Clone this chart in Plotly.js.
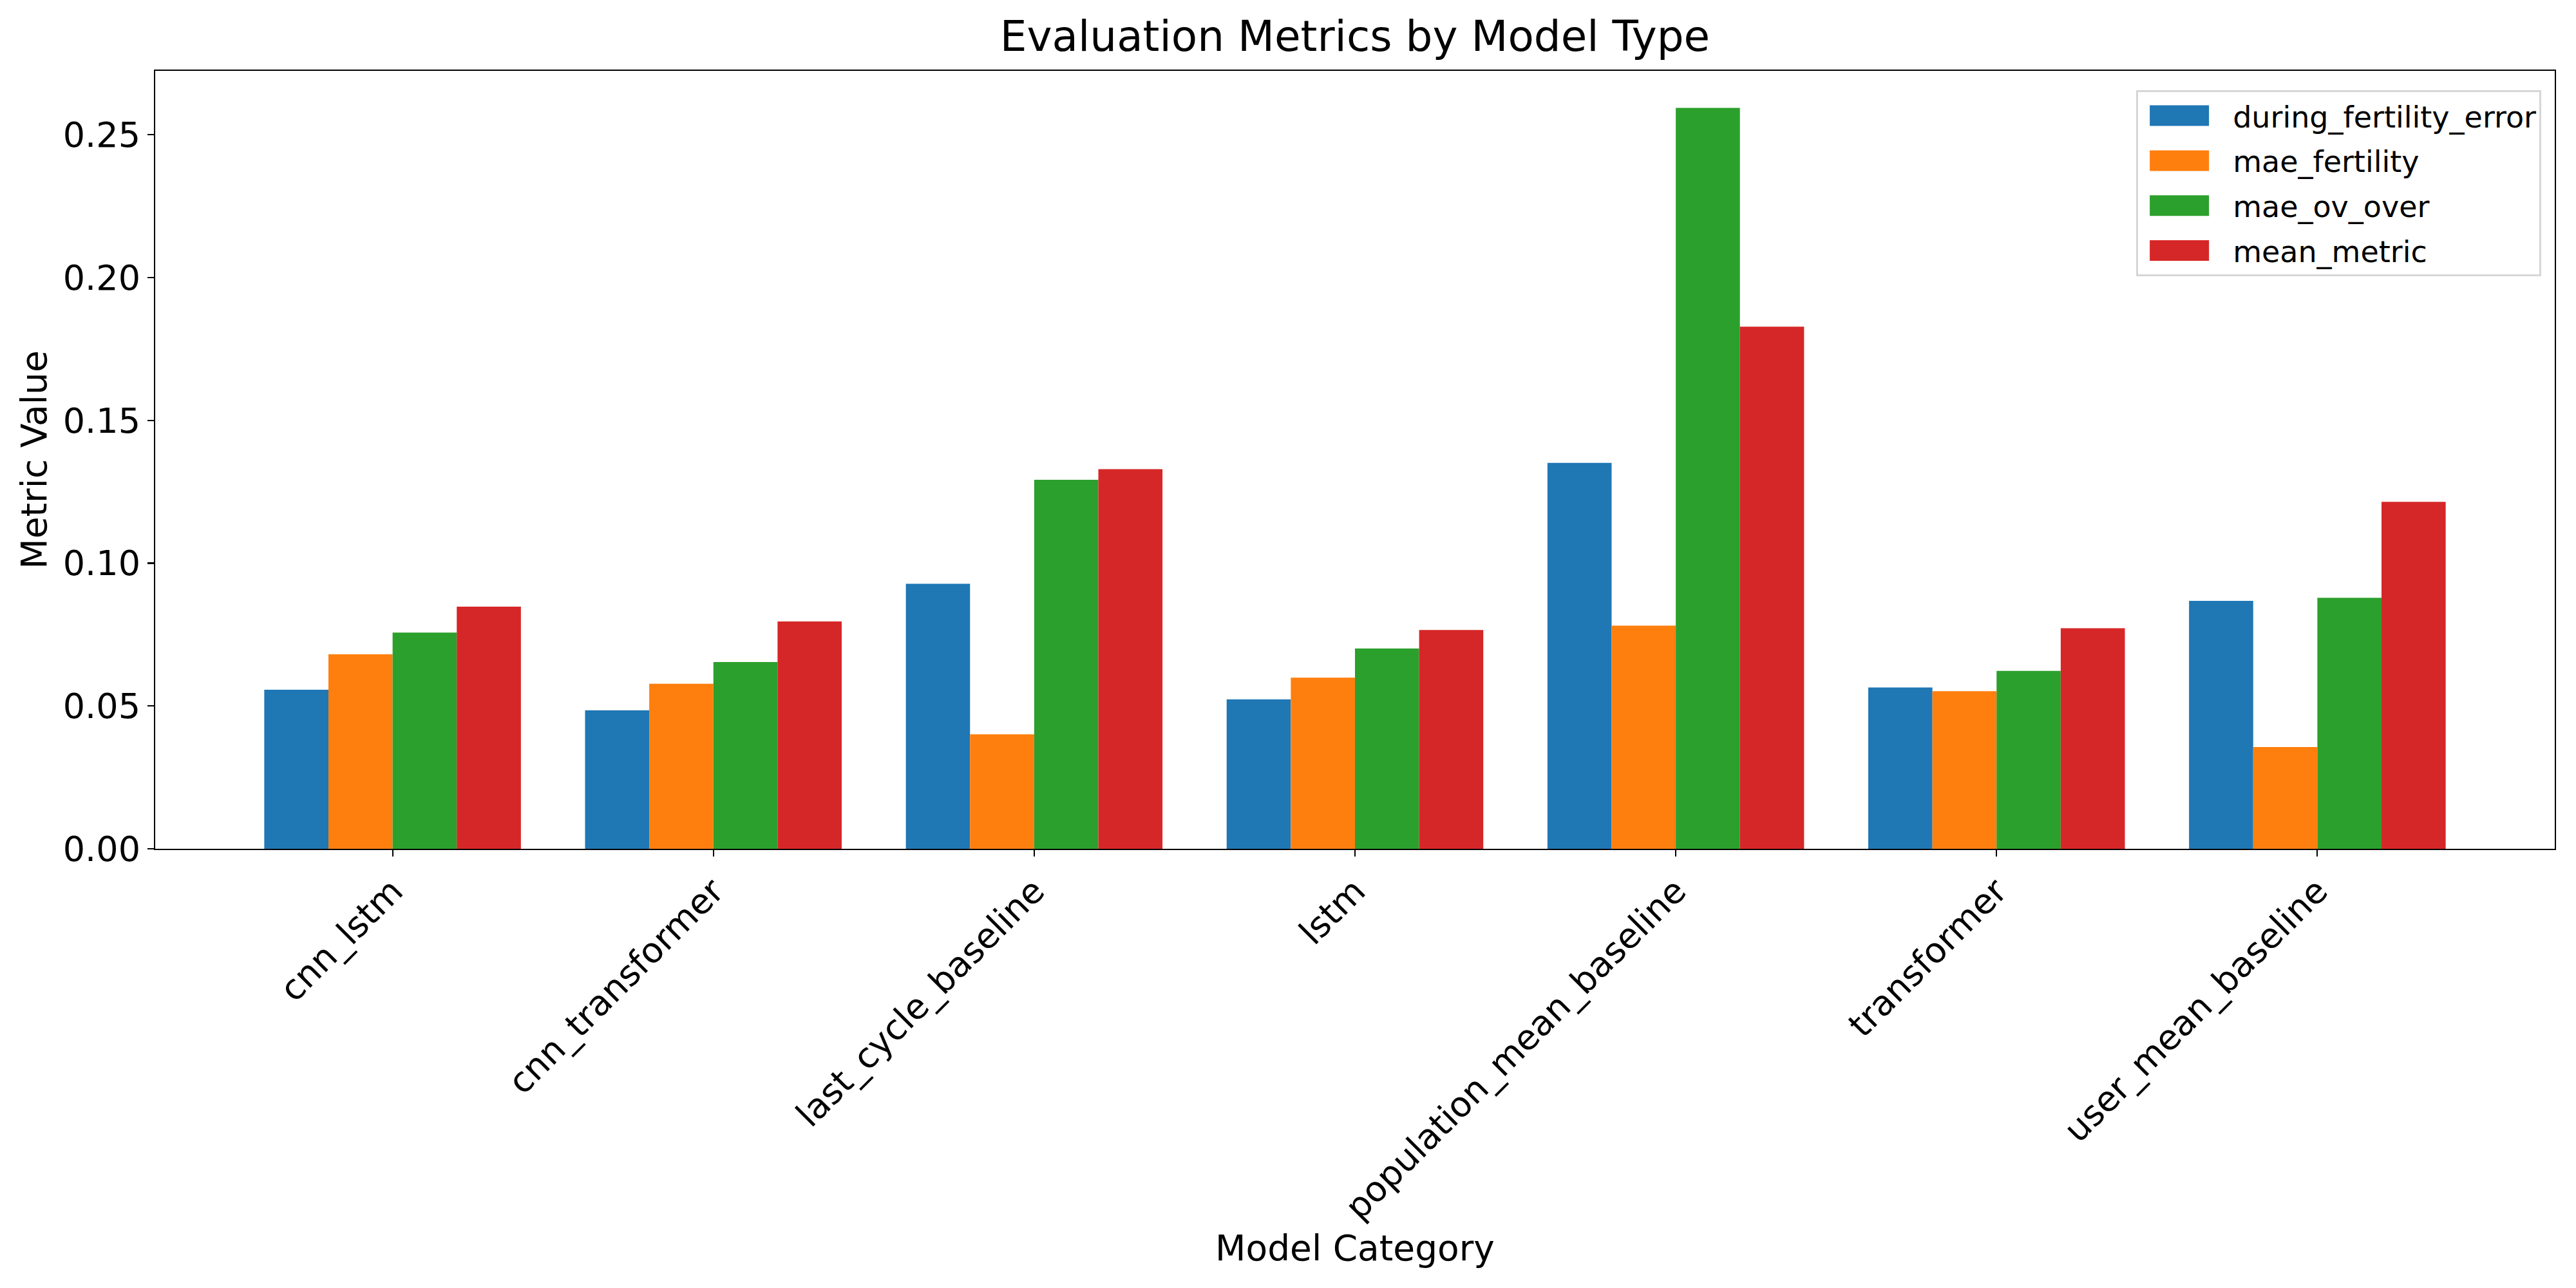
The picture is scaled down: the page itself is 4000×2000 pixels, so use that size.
<!DOCTYPE html>
<html>
<head>
<meta charset="utf-8">
<script src="https://cdn.plot.ly/plotly-3.0.1.min.js"></script>
<style>
  html, body { margin: 0; padding: 0; background: #ffffff; }
  #plot { width: 4000px; height: 2000px; }
</style>
</head>
<body>
<div id="plot"></div>
<script>
(function () {
  "use strict";

  // Werte (geschätzt)
  var MODELS = [
    "cnn_lstm", "cnn_transformer", "last_cycle_baseline", "lstm",
    "population_mean_baseline", "transformer", "user_mean_baseline"
  ];

  var METRICS = ["during_fertility_error", "mae_fertility", "mae_ov_over", "mean_metric"];

  var DURING_FERTILITY_ERROR = [0.0557, 0.0485, 0.0928, 0.0523, 0.1351, 0.0565, 0.0868];
  var MAE_FERTILITY          = [0.0681, 0.0578, 0.0401, 0.0599, 0.0781, 0.0552, 0.0356];
  var MAE_OV_OVER            = [0.0757, 0.0654, 0.1292, 0.0701, 0.2594, 0.0623, 0.0879];
  var MEAN_METRIC            = [0.0848, 0.0796, 0.1329, 0.0766, 0.1828, 0.0772, 0.1215];

  var Y_TICKS = [0, 0.05, 0.10, 0.15, 0.20, 0.25];
  var Y_TICK_LABELS = ["0.00", "0.05", "0.10", "0.15", "0.20", "0.25"];

  var SERIES = [DURING_FERTILITY_ERROR, MAE_FERTILITY, MAE_OV_OVER, MEAN_METRIC];
  var COLORS = ["#1f77b4", "#ff7f0e", "#2ca02c", "#d62728"];

  var FONT = "DejaVu Sans, Liberation Sans, sans-serif";

  var traces = METRICS.map(function (name, i) {
    return {
      type: "bar",
      name: name,
      legendgroup: name,
      x: MODELS,
      y: SERIES[i],
      marker: { color: COLORS[i], line: { width: 0 } },
      hoverinfo: "x+y+name"
    };
  });

  // matplotlib: 5 % Rand um die Daten
  var maxVal = Math.max.apply(null, MAE_OV_OVER.concat(MEAN_METRIC, DURING_FERTILITY_ERROR));
  var yTop = maxVal * 1.05;

  var axisCommon = {
    showline: true,
    mirror: true,
    linecolor: "#000000",
    linewidth: 2.2,
    ticks: "outside",
    ticklen: 10,
    tickwidth: 2.2,
    tickcolor: "#000000",
    showgrid: false,
    zeroline: false,
    tickfont: { family: FONT, size: 54, color: "#000000" }
  };

  var layout = {
    width: 4000,
    height: 2000,
    paper_bgcolor: "#ffffff",
    plot_bgcolor: "#ffffff",
    font: { family: FONT, color: "#000000" },
    margin: { l: 241, r: 33, t: 110, b: 682, pad: 0 },

    title: {
      text: "Evaluation Metrics by Model Type",
      font: { family: FONT, size: 66, color: "#000000" },
      x: 0.5,
      xref: "paper",
      xanchor: "center",
      y: 1 - 56 / 2000,
      yref: "container",
      yanchor: "middle"
    },

    xaxis: Object.assign({}, axisCommon, {
      type: "category",
      range: [-0.74, MODELS.length - 1 + 0.74],
      tickangle: -45,
      title: {
        text: "Model Category",
        font: { family: FONT, size: 55, color: "#000000" },
        standoff: 14
      }
    }),

    yaxis: Object.assign({}, axisCommon, {
      range: [0, yTop],
      tickmode: "array",
      tickvals: Y_TICKS,
      ticktext: Y_TICK_LABELS,
      title: {
        text: "Metric Value",
        font: { family: FONT, size: 55, color: "#000000" },
        standoff: 8
      }
    }),

    barmode: "group",
    bargap: 0.2,
    bargroupgap: 0,

    showlegend: true,
    legend: {
      x: 0.9944,
      xanchor: "right",
      y: 0.975,
      yanchor: "top",
      bgcolor: "rgba(255,255,255,0.8)",
      bordercolor: "#d6d6d6",
      borderwidth: 3,
      itemwidth: 137,
      traceorder: "grouped",
      tracegroupgap: 7,
      font: { family: FONT, size: 46, color: "#000000" }
    }
  };

  var config = { displayModeBar: false, responsive: false, staticPlot: true };

  // Legendensymbole wie bei matplotlib: breite Rechtecke statt kleiner Quadrate
  function widenLegendPatches(gd) {
    var items = gd.querySelectorAll(".legend .traces");
    items.forEach(function (item) {
      var text = item.querySelector("text.legendtext");
      var points = item.querySelector(".legendpoints");
      if (!text || !points) return;
      var tx = parseFloat(text.getAttribute("x")) || 147;
      points.setAttribute("transform", "");
      points.querySelectorAll("path").forEach(function (p) {
        p.setAttribute("transform", "");
        var right = tx - 37;
        p.setAttribute("d", "M" + (right - 92) + ",-16H" + right + "V16H" + (right - 92) + "Z");
      });
    });
  }

  var plotDiv = document.getElementById("plot");
  Plotly.newPlot(plotDiv, traces, layout, config).then(function () {
    widenLegendPatches(plotDiv);
  });
})();
</script>
</body>
</html>
